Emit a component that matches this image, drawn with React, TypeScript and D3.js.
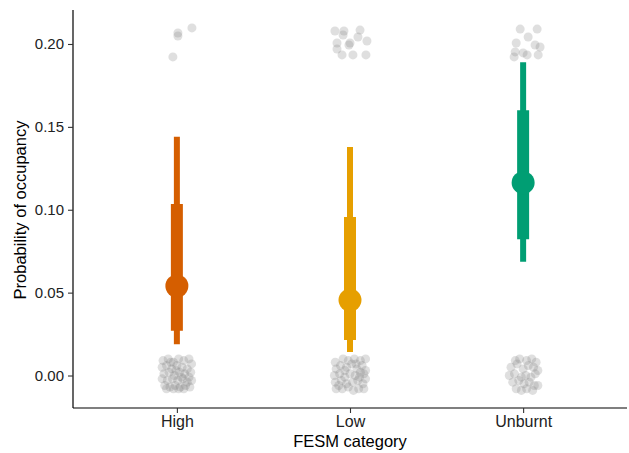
import { useEffect, useRef } from "react"
import * as d3 from "d3"

const categories = ["High", "Low", "Unburnt"]
const colors = ["#D55E00", "#E69F00", "#009E73"]

// posterior summaries per category
const medians = [0.054, 0.0455, 0.1163]
const inner = [
  [0.027, 0.1035],
  [0.0214, 0.0956],
  [0.0822, 0.16],
]
const outer = [
  [0.0188, 0.144],
  [0.0142, 0.1378],
  [0.0687, 0.189],
]

const yTicks = [0, 0.05, 0.1, 0.15, 0.2]

// jittered raw observations: [x offset in category units, value]
const highObs = [
  [0.006, 0.2066], [0.006, 0.2048], [0.087, 0.2097], [-0.023, 0.1922],
  [-0.08, 0.009], [-0.05, 0.01], [-0.02, 0.008], [0.01, 0.01], [0.04, 0.009], [0.07, 0.01], [0.085, 0.007],
  [-0.085, 0.005], [-0.06, 0.006], [-0.03, 0.004], [0.0, 0.006], [0.03, 0.005], [0.06, 0.004], [0.08, 0.002],
  [-0.075, 0.001], [-0.045, 0.002], [-0.015, 0.0], [0.015, 0.002], [0.045, 0.001], [0.07, -0.001],
  [-0.085, -0.002], [-0.055, -0.003], [-0.025, -0.002], [0.005, -0.003], [0.035, -0.002], [0.06, -0.004], [0.085, -0.003],
  [-0.07, -0.006], [-0.04, -0.007], [-0.01, -0.006], [0.02, -0.007], [0.05, -0.006], [0.075, -0.007],
  [-0.06, -0.008], [-0.02, -0.008], [0.01, -0.008], [0.04, -0.008], [-0.035, 0.008], [0.025, -0.001], [-0.005, 0.003],
]
const lowObs = [
  [-0.087, 0.2078], [-0.035, 0.2078], [0.058, 0.2084], [-0.04, 0.2054], [-0.075, 0.2006], [0.0, 0.2006],
  [0.046, 0.2042], [0.098, 0.2018], [-0.075, 0.197], [-0.046, 0.1934], [0.017, 0.1934], [0.092, 0.1934], [-0.006, 0.1994],
  [-0.085, 0.008], [-0.04, 0.01], [-0.01, 0.009], [0.025, 0.01], [0.06, 0.009], [0.09, 0.01],
  [-0.08, 0.004], [-0.055, 0.006], [-0.02, 0.005], [0.01, 0.007], [0.04, 0.004], [0.07, 0.006], [0.09, 0.003],
  [-0.09, 0.0], [-0.06, 0.001], [-0.03, -0.001], [0.0, 0.001], [0.03, 0.0], [0.055, -0.001], [0.08, 0.001],
  [-0.085, -0.004], [-0.05, -0.003], [-0.02, -0.005], [0.015, -0.004], [0.045, -0.003], [0.075, -0.005], [0.09, -0.002],
  [-0.08, -0.008], [-0.045, -0.008], [-0.01, -0.007], [0.02, -0.009], [0.05, -0.008], [0.08, -0.008],
  [-0.03, 0.003], [0.06, 0.002], [-0.065, -0.006], [0.035, 0.007],
]
const unburntObs = [
  [-0.017, 0.209], [0.081, 0.209], [0.029, 0.2042], [-0.04, 0.2006], [0.069, 0.1994], [0.098, 0.1982],
  [-0.046, 0.1952], [0.0, 0.1946], [0.023, 0.1934], [0.087, 0.1934], [-0.052, 0.1922],
  [-0.045, 0.009], [-0.02, 0.01], [0.02, 0.009], [0.05, 0.01], [0.075, 0.008],
  [-0.07, 0.005], [-0.035, 0.007], [0.0, 0.004], [0.03, 0.006], [0.06, 0.005], [0.085, 0.003],
  [-0.08, 0.0], [-0.05, 0.001], [-0.01, -0.001], [0.015, 0.0], [0.045, -0.001], [0.07, 0.001],
  [-0.06, -0.004], [-0.025, -0.003], [0.005, -0.005], [0.035, -0.004], [0.065, -0.006],
  [-0.04, -0.008], [-0.01, -0.009], [0.02, -0.008], [0.055, -0.009], [0.085, -0.006],
]
const observations = [highObs, lowObs, unburntObs]

export default function App() {
  const svgRef = useRef<SVGSVGElement>(null)

  useEffect(() => {
    if (!svgRef.current) return
    const svg = d3.select(svgRef.current)
    svg.selectAll("*").remove()

    const font = "Arial, 'Liberation Sans', sans-serif"
    const left = 73
    const right = 627
    const top = 10
    const bottom = 408

    const x = d3.scalePoint<string>().domain(categories).range([left, right]).padding(0.6)
    const step = x.step()
    const y = d3.scaleLinear().domain([-0.0196, 0.2205]).range([bottom, top])

    // raw points
    const pts = svg.append("g")
    observations.forEach((obs, i) => {
      const cx = x(categories[i]) || 0
      pts
        .selectAll(null)
        .data(obs)
        .enter()
        .append("circle")
        .attr("cx", (d) => cx + d[0] * step)
        .attr("cy", (d) => y(d[1]))
        .attr("r", 4.5)
        .attr("fill", "#7f7f7f")
        .attr("fill-opacity", 0.25)
    })

    // intervals
    const iv = svg
      .append("g")
      .selectAll("g")
      .data(categories)
      .enter()
      .append("g")

    iv.append("line")
      .attr("x1", (d) => x(d) || 0)
      .attr("x2", (d) => x(d) || 0)
      .attr("y1", (_, i) => y(outer[i][0]))
      .attr("y2", (_, i) => y(outer[i][1]))
      .attr("stroke", (_, i) => colors[i])
      .attr("stroke-width", 6)

    iv.append("line")
      .attr("x1", (d) => x(d) || 0)
      .attr("x2", (d) => x(d) || 0)
      .attr("y1", (_, i) => y(inner[i][0]))
      .attr("y2", (_, i) => y(inner[i][1]))
      .attr("stroke", (_, i) => colors[i])
      .attr("stroke-width", 12)

    iv.append("circle")
      .attr("cx", (d) => x(d) || 0)
      .attr("cy", (_, i) => y(medians[i]))
      .attr("r", 11.5)
      .attr("fill", (_, i) => colors[i])

    // Y axis
    const yAxis = svg
      .append("g")
      .attr("transform", `translate(${left},0)`)
      .call(d3.axisLeft(y).tickValues(yTicks).tickFormat(d3.format(".2f")).tickSize(5).tickPadding(4))
    yAxis.select(".domain").attr("d", `M0,${top}V${bottom}`).attr("stroke", "#000").attr("stroke-width", 1.2)
    yAxis.selectAll(".tick line").attr("stroke", "#333").attr("stroke-width", 1.1)
    yAxis.selectAll("text").attr("font-family", font).attr("font-size", 15).attr("fill", "#222")

    // X axis
    const xAxis = svg
      .append("g")
      .attr("transform", `translate(0,${bottom})`)
      .call(d3.axisBottom(x).tickSize(5).tickPadding(3))
    xAxis.select(".domain").attr("d", `M${left},0H${right}`).attr("stroke", "#000").attr("stroke-width", 1.2)
    xAxis.selectAll(".tick line").attr("stroke", "#333").attr("stroke-width", 1.1)
    xAxis.selectAll("text").attr("font-family", font).attr("font-size", 16).attr("fill", "#222")

    // axis titles
    svg
      .append("text")
      .attr("x", (left + right) / 2)
      .attr("y", 447)
      .attr("text-anchor", "middle")
      .attr("font-family", font)
      .attr("font-size", 16.5)
      .attr("fill", "#000")
      .text("FESM category")

    svg
      .append("text")
      .attr("transform", `translate(26,210) rotate(-90)`)
      .attr("text-anchor", "middle")
      .attr("font-family", font)
      .attr("font-size", 16.5)
      .attr("fill", "#000")
      .text("Probability of occupancy")
  }, [])

  return (
    <>
      <style>{"body{margin:0}"}</style>
      <svg ref={svgRef} width={629} height={453} style={{ display: "block", background: "#fff" }}></svg>
    </>
  )
}
